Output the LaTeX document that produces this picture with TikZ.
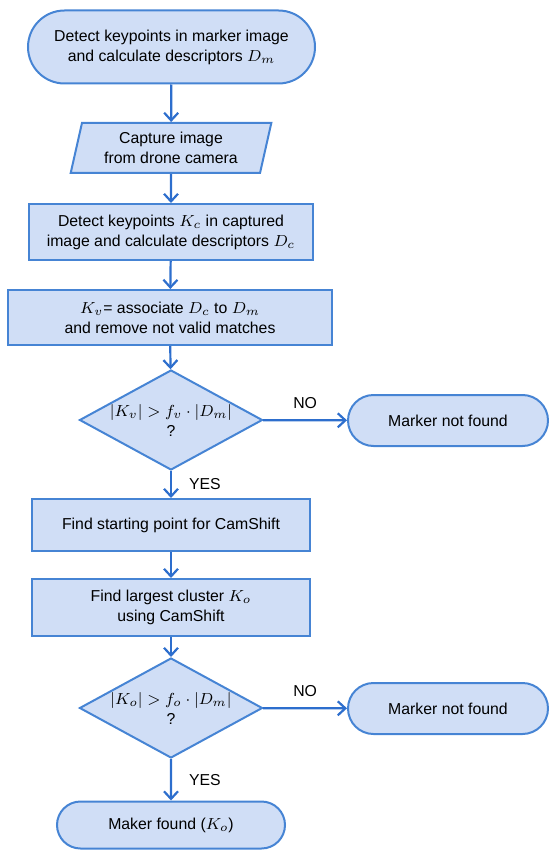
\documentclass[tikz,border=0pt]{standalone}
\usepackage{fontspec}
\setmainfont{Liberation Sans}[Scale=0.93]
\usetikzlibrary{arrows.meta,shapes.geometric,shapes.misc}
\definecolor{boxfill}{RGB}{208,222,246}
\definecolor{boxline}{RGB}{70,132,212}
\definecolor{flowline}{RGB}{45,110,205}

\begin{document}
\begin{tikzpicture}[x=0.5pt,y=-0.5pt,>={Straight Barb[length=3.8pt,width=7pt]},
    font=\fontsize{8.5}{10}\selectfont,
    base/.style={draw=boxline,fill=boxfill,line width=1pt,align=center,inner sep=0pt},
    term/.style={base,rounded rectangle},
    proc/.style={base,rectangle},
    io/.style={base,trapezium,trapezium left angle=75,trapezium right angle=105,
      trapezium stretches=true},
    decision/.style={base,diamond,aspect=1.83,inner sep=-2pt},
    flow/.style={->,draw=flowline,line width=1.1pt},
    tag/.style={inner sep=0pt}]
  \useasboundingbox (0,0) rectangle (549,850);

  % main column
  \node[term,minimum width=143.5pt,minimum height=36.5pt] (detectm) at (171.5,47)
    {Detect keypoints in marker image\\and calculate descriptors $D_m$};
  \node[io,minimum width=101pt,minimum height=25pt] (capture) at (171,148)
    {Capture image\\from drone camera};
  \node[proc,minimum width=142pt,minimum height=28pt] (detectc) at (171,232)
    {Detect keypoints $K_c$ in captured\\image and calculate descriptors $D_c$};
  \node[proc,minimum width=162pt,minimum height=27.5pt] (assoc) at (170,317.5)
    {$K_v$= associate $D_c$ to $D_m$\\and remove not valid matches};
  \node[decision,minimum width=91.5pt,minimum height=50pt] (validq) at (171,420)
    {$|K_v|>f_v\cdot|D_m|$\\?};
  \node[proc,minimum width=139pt,minimum height=26pt] (startpt) at (171,525)
    {Find starting point for CamShift};
  \node[proc,minimum width=139pt,minimum height=28.5pt] (cluster) at (171,607.5)
    {Find largest cluster $K_o$\\using CamShift};
  \node[decision,minimum width=91.5pt,minimum height=50pt] (clusterq) at (171,708)
    {$|K_o|>f_o\cdot|D_m|$\\?};
  \node[term,minimum width=114pt,minimum height=23.5pt] (found) at (171,825)
    {Maker found ($K_o$)};

  % failure ends
  \node[term,minimum width=100pt,minimum height=25.5pt] (notfoundv) at (448,420.5)
    {Marker not found};
  \node[term,minimum width=100pt,minimum height=25.5pt] (notfoundo) at (448,708.5)
    {Marker not found};

  \draw[flow] (detectm) -- (capture);
  \draw[flow] (capture) -- (detectc);
  \draw[flow] (detectc) -- (assoc);
  \draw[flow] (assoc) -- (validq);
  \draw[flow] (validq) -- node[tag,above,yshift=5pt] {NO} (notfoundv);
  \draw[flow] (validq) -- node[tag,anchor=west,xshift=8.5pt] {YES} (startpt);
  \draw[flow] (startpt) -- (cluster);
  \draw[flow] (cluster) -- (clusterq);
  \draw[flow] (clusterq) -- node[tag,above,yshift=5pt] {NO} (notfoundo);
  \draw[flow] (clusterq) -- node[tag,anchor=west,xshift=8.5pt] {YES} (found);
\end{tikzpicture}
\end{document}
